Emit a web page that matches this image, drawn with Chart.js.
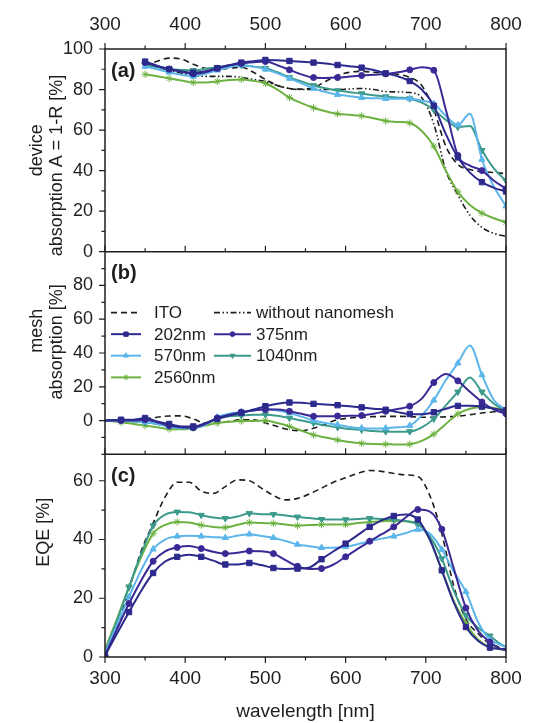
<!DOCTYPE html>
<html>
<head>
<meta charset="utf-8">
<script src="https://cdn.jsdelivr.net/npm/chart.js@4.4.1/dist/chart.umd.min.js"></script>
<style>
  html, body { margin: 0; padding: 0; background: #fff; }
  #wrap { width: 554px; height: 723px; }
</style>
</head>
<body>
<div id="wrap"><canvas id="fig" width="554" height="723"></canvas></div>
<script>
// ---- data ----
// (a) device absorption A = 1-R [%]
const WL_A = [350,365,380,395,410,425,440,455,470,485,500,515,530,545,560,575,590,605,620,635,650,665,680,695,710,725,740,755,770,785,800];
const A_ITO  = [91.5,94,95.5,95,92.5,90.5,90,90.5,91,88.5,85,82,80.5,80.2,81,84,87,88.5,89,88.5,88,87.5,86,82,70,52,43,40.5,39.5,39,38.5];
const A_NONE = [93,91,89.5,88,87,86.5,86.5,86.5,86,85,84,82,80.5,80,80,80,80,80.3,80.5,80,79,78.8,78.5,76,63,40,28,18,12,9,7.5];
const A_202  = [93.8,91.8,90.1,89,88.3,89,90.5,92,93.3,94,94.6,94.5,94.1,93.7,93.3,92.8,92.1,91.5,90.8,89.6,88,86.5,84.2,80,72,58,46.5,39,34.3,31.5,29.7];
const A_375  = [93.3,91.5,90.1,88.8,87.7,88.5,90.5,92,92.9,93.5,93.8,92,89.7,87.5,85.9,85.7,85.9,86.4,86.9,87.3,87.7,88.5,89.7,91,89.5,70,47.5,42.5,40,35,31];
const A_570  = [91.4,90,88.5,87.3,86.5,87.8,89.5,91,92,91.3,90,88,85.5,83,80.5,78.8,77.5,76.7,76,75.7,75.5,75.5,75.5,74.5,73,67,62.5,68,45.5,32,22.5];
const A_1040 = [92,91,90,89.7,89.5,90.2,91,91.8,92,91.3,90.5,88.5,86,84,82,80.7,79.5,78.7,78,77.2,76.5,76,75.5,73.5,70,65,61.5,62,50,41,35];
const A_2560 = [87.5,86.5,85.5,84.5,83.5,83.5,84,84.7,85,84.3,83,80,76,73.3,71,69.3,68,67.5,67,65.8,64.5,64,63.5,59.5,52,40,29.5,23,19,16.5,14.5];

// (b) mesh absorption [%]
const WL_B = [300,320,335,350,365,380,395,410,425,440,455,470,485,500,515,530,545,560,575,590,605,620,635,650,665,680,695,710,725,740,755,770,785,800];
const B_ITO  = [0,0,0.5,1,2,2.7,2.8,1,-1.5,-1.5,-0.5,0.5,0.5,-1.5,-3.5,-5.5,-6,-4.5,-2,0.5,1.5,2,2.3,2.5,2.5,2.3,2,2,2.2,2.6,3.5,4.5,5.2,6];
const B_202  = [0,0.5,0.5,1.5,-0.5,-2,-3.5,-3.5,-1.5,1,3,4.5,6.5,8.5,10,10.7,10.5,9.9,9.5,9.1,8.5,7.8,7,6.4,5,3.9,3.8,4.9,7,8.7,8.7,8.3,7,6];
const B_375  = [0,0,0,0.5,-1,-3,-4,-4.2,-2,1.5,3.5,5,6,6.5,6.5,5.5,4,2.5,2.5,2.7,2.8,3,4,5.5,6.8,8.5,13,22.5,27.5,23.5,17,11,6.5,4];
const B_570  = [0,0,-0.5,-1,-2,-3.5,-4.5,-4.5,-2.5,2,4,5,6,6.8,6,4.5,2.3,0,-1.5,-2.5,-3.8,-4.5,-4.7,-4.5,-4,-3,3,12,24,34,44.5,27,12,6.5];
const B_1040 = [0,0,-0.5,-1,-2,-3.5,-4.2,-4,-2,1,2.5,3,3.5,3.5,2.8,1.5,0,-1.5,-3,-4,-5,-5.5,-6.2,-6.5,-6.6,-6.5,-4,1,9,17,25.5,17,10,6];
const B_2560 = [0,-1,-2,-3,-4,-5,-5.2,-4.5,-3,-1.5,-0.8,-0.3,-0.2,0,-1.5,-3.5,-6,-8.5,-10,-11.5,-12.7,-13.5,-13.9,-14,-14.2,-14,-12,-8,-2,4,7,8,7.5,6];

// (c) EQE [%]
const WL_C = [300,315,330,345,360,375,390,405,420,435,450,465,480,495,510,525,540,555,570,585,600,615,630,645,660,675,690,705,720,735,750,765,780,790,800];
const C_ITO  = [0,10,23,36,45.5,54.5,59.5,59.5,56.5,55.7,58,60.3,60,57.5,55,53.5,54,55.5,57.5,59.5,61,62.5,63.5,63.2,62.5,62,61.5,55,42,24,13,8,4.5,3.5,2.5];
const C_202  = [0.5,8,15.3,22.5,28.6,32.5,34.1,34.8,34.1,32.8,31.5,31.5,32,31.3,30.3,30,30.1,30.5,33.3,36,38.6,41.5,44.3,46.5,48,48.5,46.8,40,29.5,18.5,10.2,5.5,3.2,2.8,2.6];
const C_375  = [0.5,9.5,18.2,26,32.6,36,37.3,37.8,36.9,35.8,35.2,35.5,36.1,36,35.2,33,30.9,30,30.1,31.5,34.1,36.8,39.4,41.8,44.3,47.5,50.2,49.5,43.5,30,16.7,9,5.1,3.2,2.3];
const C_570  = [1.2,11,20.5,29.5,36.7,40,41.1,41.3,41.1,40.8,40.6,41.3,41.8,41.2,40.6,39.5,38.3,37.7,37.2,37.2,37.5,38.4,39.4,40.3,41.1,42.2,43.4,42,36.6,29,22.2,12,5.9,4.5,3.4];
const C_1040 = [1.5,12.5,23.9,35,44.7,48.5,49.4,49.3,48.3,47.5,47.2,47.8,48.9,48.6,48.6,48.2,47.7,47.3,46.9,46.8,46.8,47,47.2,47,46.8,46.3,45.1,41,33.5,22.5,14.2,10,7.2,5,3.4];
const C_2560 = [2.5,13,23.9,34,42,45,46,45.8,44.9,44.3,44.1,45,45.8,45.6,45.5,45.1,44.7,44.9,45.1,45.1,45.1,45.6,46,46.2,46.4,46.2,45.5,40,29.5,19,11.4,6,3.4,2.8,2.3];

// ticks
const X_TICKS  = [300,350,400,450,500,550,600,650,700,750,800];
const X_LABELS = [300,400,500,600,700,800];
const A_TICKS  = [0,10,20,30,40,50,60,70,80,90,100];
const A_LABELS = [0,20,40,60,80,100];
const B_TICKS  = [-20,-10,0,10,20,30,40,50,60,70,80,90,100];
const B_LABELS = [0,20,40,60,80];
const C_TICKS  = [0,10,20,30,40,50,60];
const C_LABELS = [0,20,40,60];

// markers sit every 30 nm
const MARK_A = WL_A.filter(w => (w - 350) % 30 === 0);
const MARK_B = WL_B.filter(w => w >= 320 && (w - 320) % 30 === 0);
const MARK_C = WL_C.filter(w => w <= 780 && (w - 300) % 30 === 0);

const INK = '#1e1e1e';
const FONT = '"Liberation Sans", Arial, Helvetica, sans-serif';
Chart.defaults.font.family = FONT;
Chart.defaults.color = INK;

const STYLE = {
  ITO:  {color: INK, width: 1.6, dash: [6, 4]},
  NONE: {color: INK, width: 1.6, dash: [6, 2.5, 1.5, 2.5, 1.5, 2.5]},
  N202: {color: '#2d2a8e', width: 2, point: 'rect', r: 3.8},
  N375: {color: '#3b2996', width: 2, point: 'circle', r: 3},
  N570: {color: '#5cb6ea', width: 2, point: 'triangle', r: 3.6},
  N1040:{color: '#3c9a8c', width: 2, point: 'triangle', rot: 180, r: 3.6},
  N2560:{color: '#6cb240', width: 2, point: 'star', r: 3.6}
};

function serie(key, wl, vals, marks, yAxisID) {
  const st = STYLE[key];
  return {
    label: key,
    yAxisID: yAxisID,
    data: wl.map((x, i) => ({x: x, y: vals[i]})),
    borderColor: st.color,
    backgroundColor: st.color,
    borderWidth: st.width,
    borderDash: st.dash || [],
    cubicInterpolationMode: 'monotone',
    pointStyle: st.point || 'circle',
    pointRotation: st.rot || 0,
    pointBorderWidth: 1,
    pointBackgroundColor: st.color,
    pointBorderColor: st.color,
    pointRadius: c => (st.point && c.raw && marks.includes(c.raw.x)) ? st.r : 0
  };
}

const datasets = [
  serie('N202', WL_A, A_202, MARK_A, 'yA'),
  serie('N375', WL_A, A_375, MARK_A, 'yA'),
  serie('N570', WL_A, A_570, MARK_A, 'yA'),
  serie('N1040', WL_A, A_1040, MARK_A, 'yA'),
  serie('N2560', WL_A, A_2560, MARK_A, 'yA'),
  serie('ITO', WL_A, A_ITO, MARK_A, 'yA'),
  serie('NONE', WL_A, A_NONE, MARK_A, 'yA'),

  serie('N202', WL_B, B_202, MARK_B, 'yB'),
  serie('N375', WL_B, B_375, MARK_B, 'yB'),
  serie('N570', WL_B, B_570, MARK_B, 'yB'),
  serie('N1040', WL_B, B_1040, MARK_B, 'yB'),
  serie('N2560', WL_B, B_2560, MARK_B, 'yB'),
  serie('ITO', WL_B, B_ITO, MARK_B, 'yB'),

  serie('N202', WL_C, C_202, MARK_C, 'yC'),
  serie('N375', WL_C, C_375, MARK_C, 'yC'),
  serie('N570', WL_C, C_570, MARK_C, 'yC'),
  serie('N1040', WL_C, C_1040, MARK_C, 'yC'),
  serie('N2560', WL_C, C_2560, MARK_C, 'yC'),
  serie('ITO', WL_C, C_ITO, MARK_C, 'yC')
];

function yAxis(min, max, labels) {
  return {
    type: 'linear', position: 'left', stack: 'panels', stackWeight: 1,
    min: min, max: max,
    afterFit: s => { s.width = 105; },
    grid: {display: false, drawTicks: false},
    border: {display: false},
    ticks: {
      stepSize: 10, autoSkip: false, padding: 12, includeBounds: false,
      font: {size: 18},
      callback: v => labels.includes(Math.round(v)) && Math.abs(v - Math.round(v)) < 1e-6 ? String(Math.round(v)) : ''
    }
  };
}

function xAxis(pos, h, pad, withTitle) {
  return {
    type: 'linear', position: pos, min: 300, max: 800,
    afterFit: s => { s.height = h; },
    grid: {display: false, drawTicks: false},
    border: {display: false},
    ticks: {
      stepSize: 50, autoSkip: false, maxRotation: 0, padding: pad,
      font: {size: 19},
      callback: v => X_LABELS.includes(v) ? String(v) : ''
    },
    title: {display: withTitle, text: 'wavelength [nm]', font: {size: 19}, padding: 0}
  };
}

// frame, tick marks, y titles and panel letters
const decor = {
  id: 'decor',
  afterDatasetsDraw(chart) {
    const ctx = chart.ctx, ca = chart.chartArea, xs = chart.scales.x;
    const panels = [
      {s: chart.scales.yA, ticks: A_TICKS, labels: A_LABELS, tag: '(a)',
       title: [['device', 37, 0.50], ['absorption A = 1-R [%]', 57, 0.575]]},
      {s: chart.scales.yB, ticks: B_TICKS, labels: B_LABELS, tag: '(b)',
       title: [['mesh', 37, 0.39], ['absorption [%]', 57, 0.445]]},
      {s: chart.scales.yC, ticks: C_TICKS, labels: C_LABELS, tag: '(c)',
       title: [['EQE [%]', 44, 0.385]]}
    ];
    const MAJ = 6, MIN = 3.5;
    ctx.save();
    ctx.strokeStyle = INK;
    ctx.lineWidth = 1.5;
    ctx.beginPath();
    ctx.rect(ca.left, ca.top, ca.right - ca.left, ca.bottom - ca.top);
    panels.slice(1).forEach(p => { ctx.moveTo(ca.left, p.s.top); ctx.lineTo(ca.right, p.s.top); });
    ctx.stroke();

    ctx.lineWidth = 1.2;
    ctx.beginPath();
    X_TICKS.forEach(v => {
      const px = xs.getPixelForValue(v);
      const len = X_LABELS.includes(v) ? MAJ : MIN;
      panels.forEach(p => { ctx.moveTo(px, p.s.top); ctx.lineTo(px, p.s.top - len); });
      ctx.moveTo(px, ca.bottom); ctx.lineTo(px, ca.bottom + len);
    });
    panels.forEach(p => {
      p.ticks.forEach(v => {
        const py = p.s.getPixelForValue(v);
        const len = p.labels.includes(v) ? MAJ : MIN;
        ctx.moveTo(ca.left, py); ctx.lineTo(ca.left - len, py);
      });
    });
    ctx.stroke();

    ctx.fillStyle = INK;
    ctx.textAlign = 'center';
    ctx.textBaseline = 'middle';
    ctx.font = '18px ' + FONT;
    panels.forEach(p => {
      p.title.forEach(t => {
        ctx.save();
        ctx.translate(t[1], p.s.top + t[2] * (p.s.bottom - p.s.top));
        ctx.rotate(-Math.PI / 2);
        ctx.fillText(t[0], 0, 0);
        ctx.restore();
      });
    });
    ctx.textAlign = 'left';
    ctx.font = 'bold 20px ' + FONT;
    panels.forEach(p => ctx.fillText(p.tag, ca.left + 6, p.s.top + 22));
    ctx.restore();
  }
};

// legend drawn inside panel (b)
const LEGEND = [
  ['ITO', 'ITO', 0, 0], ['NONE', 'without nanomesh', 1, 0],
  ['N202', '202nm', 0, 1], ['N375', '375nm', 1, 1],
  ['N570', '570nm', 0, 2], ['N1040', '1040nm', 1, 2],
  ['N2560', '2560nm', 0, 3]
];
const legendBox = {
  id: 'legendBox',
  afterDatasetsDraw(chart) {
    const ctx = chart.ctx, L = chart.chartArea.left, T = chart.scales.yB.top;
    const colStart = [6, 109], colEnd = [36, 146], colText = [49, 151];
    const rowY = [61, 82.5, 104, 125.7];
    ctx.save();
    ctx.font = '17px ' + FONT;
    ctx.textBaseline = 'middle';
    ctx.textAlign = 'left';
    LEGEND.forEach(e => {
      const st = STYLE[e[0]];
      const y = T + rowY[e[3]];
      const x0 = L + colStart[e[2]], x1 = L + colEnd[e[2]];
      ctx.strokeStyle = st.color;
      ctx.lineWidth = st.width;
      ctx.setLineDash(st.dash || []);
      ctx.beginPath(); ctx.moveTo(x0, y); ctx.lineTo(x1, y); ctx.stroke();
      ctx.setLineDash([]);
      if (st.point) {
        ctx.fillStyle = st.color;
        ctx.lineWidth = 1;
        Chart.helpers.drawPoint(ctx, {pointStyle: st.point, rotation: st.rot || 0, radius: st.r * 0.8, borderWidth: 1}, (x0 + x1) / 2, y);
      }
      ctx.fillStyle = INK;
      ctx.fillText(e[1], L + colText[e[2]], y + 1);
    });
    ctx.restore();
  }
};

new Chart(document.getElementById('fig').getContext('2d'), {
  type: 'line',
  data: {datasets: datasets},
  options: {
    responsive: false,
    animation: false,
    events: [],
    layout: {padding: {left: 0, right: 48, top: 0, bottom: 0}},
    plugins: {legend: {display: false}, tooltip: {enabled: false}},
    scales: {
      x: xAxis('bottom', 66, 10, true),
      xTop: xAxis('top', 49, 13, false),
      yC: yAxis(0, 69, C_LABELS),
      yB: yAxis(-20, 100, B_LABELS),
      yA: yAxis(0, 100, A_LABELS)
    }
  },
  plugins: [decor, legendBox]
});
</script>
</body>
</html>
